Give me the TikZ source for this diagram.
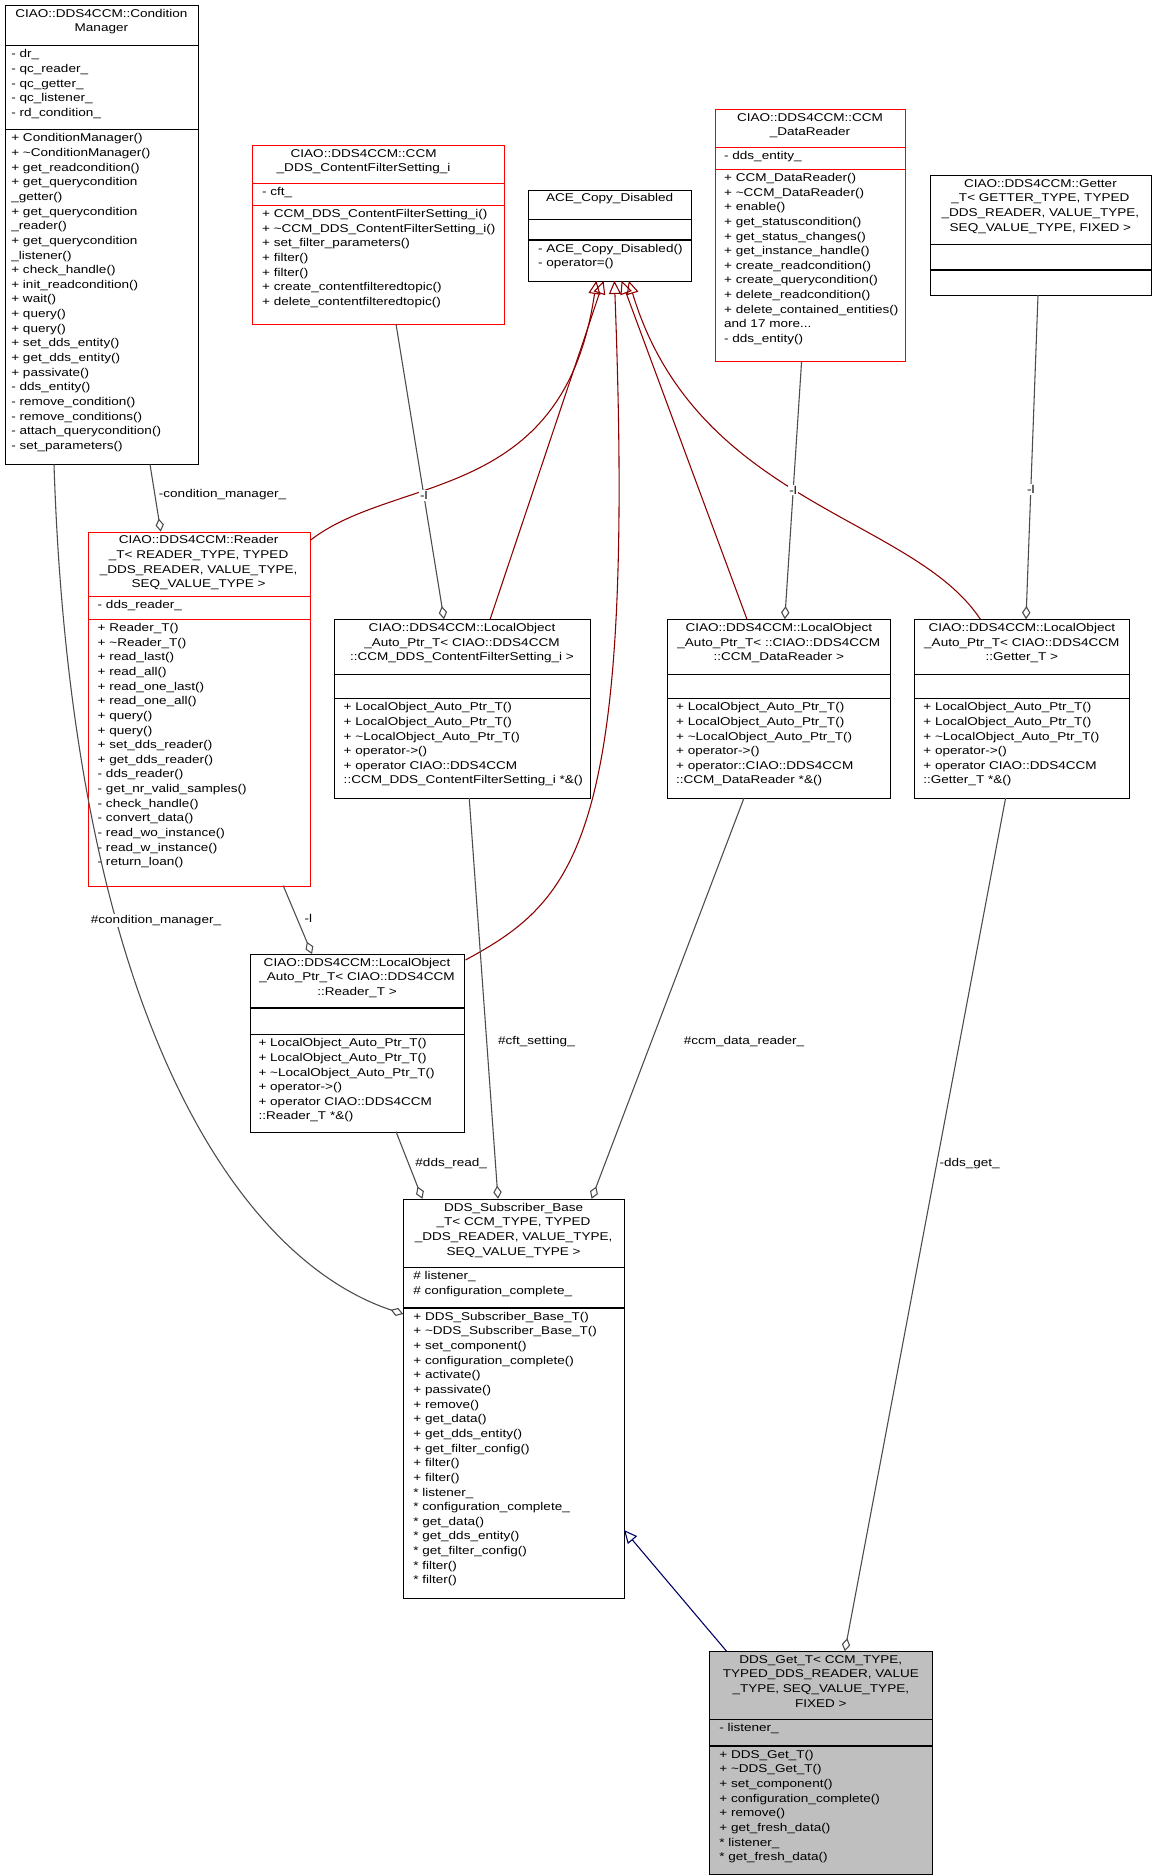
\documentclass[tikz,border=0pt]{standalone}
\usepackage{fontspec}
\setmainfont{Liberation Sans}[FakeStretch=1.2]
\usetikzlibrary{arrows.meta}
\tikzset{
 every picture/.style={line width=0.9pt},
 txt/.style={font=\fontsize{9.4}{12.2}\selectfont, inner sep=0pt, align=left},
 ttl/.style={font=\fontsize{9.4}{12.2}\selectfont, inner sep=0pt, align=center, anchor=north},
 inh/.style={draw=red!55!black, -{Triangle[open,length=11pt,width=10pt]}},
 inhb/.style={draw=blue!40!black, -{Triangle[open,length=11pt,width=10pt]}},
 agg/.style={draw=black!70, -{Diamond[open,length=11pt,width=7pt]}},
 lbl/.style={font=\fontsize{9.4}{10}\selectfont, inner sep=1pt, fill=white},
 rb/.style={draw=red}, kb/.style={draw=black}, gb/.style={draw=black,fill=black!25}
}
\newcommand\clsbox[8]{%
 \node[#8, inner sep=0pt, minimum width=#4pt-#2pt, minimum height=#5pt-#3pt, anchor=north west] (#1) at (#2,#3) {};
 \draw[#8] (#2,#6) -- (#4,#6);
 \draw[#8] (#2,#7) -- (#4,#7);}
\begin{document}
\begin{tikzpicture}[x=1pt,y=-1pt]
\useasboundingbox (0,0) rectangle (960,1562.5);
\fill[white] (0,0) rectangle (960,1562.5);
% ConditionManager
\clsbox{cm}{4}{4}{165}{387}{38}{108}{kb}
\node[ttl] at (84.5,7) {CIAO::DDS4CCM::Condition\\Manager};
\node[txt,anchor=north west] at (9,41) {- dr\_\\- qc\_reader\_\\- qc\_getter\_\\- qc\_listener\_\\- rd\_condition\_};
\node[txt,anchor=north west] at (9,111) {+ ConditionManager()\\+ \textasciitilde ConditionManager()\\+ get\_readcondition()\\+ get\_querycondition\\\_getter()\\+ get\_querycondition\\\_reader()\\+ get\_querycondition\\\_listener()\\+ check\_handle()\\+ init\_readcondition()\\+ wait()\\+ query()\\+ query()\\+ set\_dds\_entity()\\+ get\_dds\_entity()\\+ passivate()\\- dds\_entity()\\- remove\_condition()\\- remove\_conditions()\\- attach\_querycondition()\\- set\_parameters()};
% CFS_i
\clsbox{cfs}{210}{121}{420}{270}{153}{171}{rb}
\node[ttl] at (303,124) {CIAO::DDS4CCM::CCM\\\_DDS\_ContentFilterSetting\_i};
\node[txt,anchor=north west] at (218,156) {- cft\_};
\node[txt,anchor=north west] at (218,174) {+ CCM\_DDS\_ContentFilterSetting\_i()\\+ \textasciitilde CCM\_DDS\_ContentFilterSetting\_i()\\+ set\_filter\_parameters()\\+ filter()\\+ filter()\\+ create\_contentfilteredtopic()\\+ delete\_contentfilteredtopic()};
% ACE
\clsbox{ace}{440}{158}{576}{234}{183}{200}{kb}
\node[ttl] at (508,161) {ACE\_Copy\_Disabled};
\node[txt,anchor=north west] at (448,203) {- ACE\_Copy\_Disabled()\\- operator=()};
% CCM_DataReader
\clsbox{dr}{596}{91}{754}{301}{123}{141}{rb}
\node[ttl] at (675,94) {CIAO::DDS4CCM::CCM\\\_DataReader};
\node[txt,anchor=north west] at (603,126) {- dds\_entity\_};
\node[txt,anchor=north west] at (603,144) {+ CCM\_DataReader()\\+ \textasciitilde CCM\_DataReader()\\+ enable()\\+ get\_statuscondition()\\+ get\_status\_changes()\\+ get\_instance\_handle()\\+ create\_readcondition()\\+ create\_querycondition()\\+ delete\_readcondition()\\+ delete\_contained\_entities()\\and 17 more...\\- dds\_entity()};
% Getter
\clsbox{get}{775}{146}{959}{246}{204}{225}{kb}
\node[ttl] at (867,149) {CIAO::DDS4CCM::Getter\\\_T< GETTER\_TYPE, TYPED\\\_DDS\_READER, VALUE\_TYPE,\\SEQ\_VALUE\_TYPE, FIXED >};
% Reader_T
\clsbox{rt}{73}{443}{258}{738}{497}{516}{rb}
\node[ttl] at (165.5,446) {CIAO::DDS4CCM::Reader\\\_T< READER\_TYPE, TYPED\\\_DDS\_READER, VALUE\_TYPE,\\SEQ\_VALUE\_TYPE >};
\node[txt,anchor=north west] at (81,500) {- dds\_reader\_};
\node[txt,anchor=north west] at (81,519) {+ Reader\_T()\\+ \textasciitilde Reader\_T()\\+ read\_last()\\+ read\_all()\\+ read\_one\_last()\\+ read\_one\_all()\\+ query()\\+ query()\\+ set\_dds\_reader()\\+ get\_dds\_reader()\\- dds\_reader()\\- get\_nr\_valid\_samples()\\- check\_handle()\\- convert\_data()\\- read\_wo\_instance()\\- read\_w\_instance()\\- return\_loan()};
% LO CF
\clsbox{locf}{278}{516}{492}{665}{562}{582}{kb}
\node[ttl] at (385,519) {CIAO::DDS4CCM::LocalObject\\\_Auto\_Ptr\_T< CIAO::DDS4CCM\\::CCM\_DDS\_ContentFilterSetting\_i >};
\node[txt,anchor=north west] at (286,585) {+ LocalObject\_Auto\_Ptr\_T()\\+ LocalObject\_Auto\_Ptr\_T()\\+ \textasciitilde LocalObject\_Auto\_Ptr\_T()\\+ operator->()\\+ operator CIAO::DDS4CCM\\::CCM\_DDS\_ContentFilterSetting\_i *\&()};
% LO DR
\clsbox{lodr}{556}{516}{742}{665}{562}{582}{kb}
\node[ttl] at (649,519) {CIAO::DDS4CCM::LocalObject\\\_Auto\_Ptr\_T< ::CIAO::DDS4CCM\\::CCM\_DataReader >};
\node[txt,anchor=north west] at (563,585) {+ LocalObject\_Auto\_Ptr\_T()\\+ LocalObject\_Auto\_Ptr\_T()\\+ \textasciitilde LocalObject\_Auto\_Ptr\_T()\\+ operator->()\\+ operator::CIAO::DDS4CCM\\::CCM\_DataReader *\&()};
% LO Getter
\clsbox{loget}{762}{516}{941}{665}{562}{582}{kb}
\node[ttl] at (851.5,519) {CIAO::DDS4CCM::LocalObject\\\_Auto\_Ptr\_T< CIAO::DDS4CCM\\::Getter\_T >};
\node[txt,anchor=north west] at (769,585) {+ LocalObject\_Auto\_Ptr\_T()\\+ LocalObject\_Auto\_Ptr\_T()\\+ \textasciitilde LocalObject\_Auto\_Ptr\_T()\\+ operator->()\\+ operator CIAO::DDS4CCM\\::Getter\_T *\&()};
% LO Reader
\clsbox{lord}{208}{795}{387}{943}{840}{862}{kb}
\node[ttl] at (297.5,798) {CIAO::DDS4CCM::LocalObject\\\_Auto\_Ptr\_T< CIAO::DDS4CCM\\::Reader\_T >};
\node[txt,anchor=north west] at (215,865) {+ LocalObject\_Auto\_Ptr\_T()\\+ LocalObject\_Auto\_Ptr\_T()\\+ \textasciitilde LocalObject\_Auto\_Ptr\_T()\\+ operator->()\\+ operator CIAO::DDS4CCM\\::Reader\_T *\&()};
% DDS_Subscriber_Base
\clsbox{sub}{336}{999}{520}{1332}{1056}{1090}{kb}
\node[ttl] at (428,1002) {DDS\_Subscriber\_Base\\\_T< CCM\_TYPE, TYPED\\\_DDS\_READER, VALUE\_TYPE,\\SEQ\_VALUE\_TYPE >};
\node[txt,anchor=north west] at (344,1059) {\# listener\_\\\# configuration\_complete\_};
\node[txt,anchor=north west] at (344,1093) {+ DDS\_Subscriber\_Base\_T()\\+ \textasciitilde DDS\_Subscriber\_Base\_T()\\+ set\_component()\\+ configuration\_complete()\\+ activate()\\+ passivate()\\+ remove()\\+ get\_data()\\+ get\_dds\_entity()\\+ get\_filter\_config()\\+ filter()\\+ filter()\\* listener\_\\* configuration\_complete\_\\* get\_data()\\* get\_dds\_entity()\\* get\_filter\_config()\\* filter()\\* filter()};
% DDS_Get_T
\clsbox{gt}{591}{1376}{777}{1562}{1433}{1455}{gb}
\node[ttl] at (684,1379) {DDS\_Get\_T< CCM\_TYPE,\\TYPED\_DDS\_READER, VALUE\\\_TYPE, SEQ\_VALUE\_TYPE,\\FIXED >};
\node[txt,anchor=north west] at (599,1436) {- listener\_};
\node[txt,anchor=north west] at (599,1458) {+ DDS\_Get\_T()\\+ \textasciitilde DDS\_Get\_T()\\+ set\_component()\\+ configuration\_complete()\\+ remove()\\+ get\_fresh\_data()\\* listener\_\\* get\_fresh\_data()};
% inheritance
\draw[inh] (rt.north east) ++(0,7) .. controls (330,395) and (470,420) .. (497,234);
\draw[inh] (locf.north) ++(23,0) -- (503,234);
\draw[inh] (lord.north east) ++(0,5) .. controls (480,750) and (530,700) .. (512,234);
\draw[inh] (lodr.north) ++(-27,0) -- (518,234);
\draw[inh] (loget.north) ++(-35,0) .. controls (760,430) and (580,420) .. (524,234);
\draw[inhb] (gt.north) ++(-79,0) -- (520,1275);
% aggregation
\draw[agg] (330,270) -- node[lbl,pos=0.58] {-l} (370,516);
\draw[agg] (668,301) -- node[lbl,pos=0.5] {-l} (654,516);
\draw[agg] (865,246) -- node[lbl,pos=0.6] {-l} (855,516);
\draw[agg] (125,387) -- (134,443);
\node[lbl,anchor=west] at (131,412) {-condition\_manager\_};
\draw[agg] (236,738) -- (260,795);
\node[lbl] at (257,765) {-l};
\draw[agg] (45,387) .. controls (60,850) and (200,1050) .. (336,1095);
\node[lbl] at (130,767) {\#condition\_manager\_};
\draw[agg] (330,943) -- (352,999);
\node[lbl] at (376,970) {\#dds\_read\_};
\draw[agg] (391,665) -- (415,999);
\node[lbl] at (447,868) {\#cft\_setting\_};
\draw[agg] (620,665) -- (493,999);
\node[lbl] at (620,868) {\#ccm\_data\_reader\_};
\draw[agg] (838,665) -- (704,1376);
\node[lbl] at (808,970) {-dds\_get\_};
\end{tikzpicture}
\end{document}
